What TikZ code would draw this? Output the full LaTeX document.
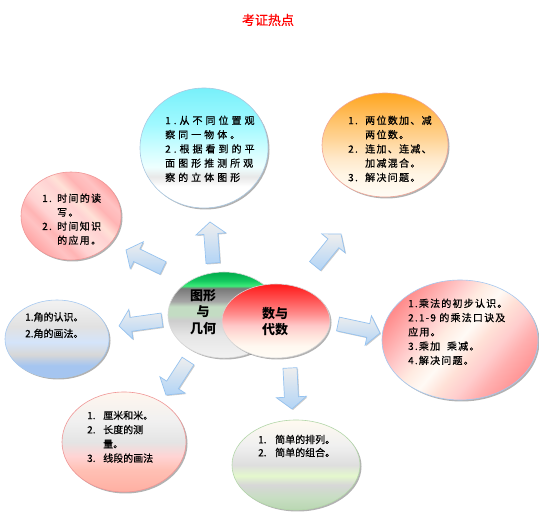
\documentclass[tikz,border=0pt]{standalone}
\usepackage{fontspec}
\newfontfamily\cjk{Noto Sans CJK SC}
\newfontfamily\cjkt[FakeBold=0.6]{Noto Sans CJK SC}
\usetikzlibrary{shapes.geometric,shadows,calc}

% colours
\definecolor{cyA}{RGB}{120,240,250}
\definecolor{cyB}{RGB}{160,249,255}
\definecolor{cyC}{RGB}{205,253,255}
\definecolor{cyD}{RGB}{238,255,255}
\definecolor{grE}{RGB}{232,232,232}
\definecolor{orA}{RGB}{255,165,30}
\definecolor{orB}{RGB}{255,192,100}
\definecolor{orC}{RGB}{255,212,150}
\definecolor{orD}{RGB}{255,232,200}
\definecolor{orE}{RGB}{255,245,228}
\definecolor{orF}{RGB}{255,252,245}
\definecolor{blA}{RGB}{165,197,240}
\definecolor{blB}{RGB}{215,215,215}
\definecolor{blC}{RGB}{212,228,250}
\definecolor{blD}{RGB}{225,225,225}
\definecolor{blE}{RGB}{242,242,242}
\definecolor{lnA}{RGB}{255,175,162}
\definecolor{lnB}{RGB}{255,192,180}
\definecolor{lnC}{RGB}{255,212,212}
\definecolor{lnD}{RGB}{228,228,228}
\definecolor{lnE}{RGB}{240,240,240}
\definecolor{lnF}{RGB}{255,246,238}
\definecolor{cbA}{RGB}{185,215,178}
\definecolor{cbB}{RGB}{200,222,195}
\definecolor{cbC}{RGB}{215,215,215}
\definecolor{cbD}{RGB}{228,248,205}
\definecolor{cbE}{RGB}{222,222,222}
\definecolor{cbF}{RGB}{240,240,240}
\definecolor{cbG}{RGB}{255,250,240}
\definecolor{geA}{RGB}{0,170,75}
\definecolor{geB}{RGB}{20,200,95}
\definecolor{geC}{RGB}{60,235,120}
\definecolor{geD}{RGB}{120,120,120}
\definecolor{geE}{RGB}{165,165,165}
\definecolor{geF}{RGB}{195,220,195}
\definecolor{geG}{RGB}{205,205,205}
\definecolor{geH}{RGB}{230,230,230}
\definecolor{geI}{RGB}{242,242,242}
\definecolor{alA}{RGB}{255,25,25}
\definecolor{alB}{RGB}{255,80,80}
\definecolor{alC}{RGB}{255,140,140}
\definecolor{alD}{RGB}{255,200,200}
\definecolor{alE}{RGB}{255,228,220}
\definecolor{alF}{RGB}{255,248,240}
\definecolor{alG}{RGB}{255,252,246}
\definecolor{tmA}{RGB}{255,165,165}
\definecolor{tmB}{RGB}{255,195,195}
\definecolor{tmC}{RGB}{255,180,180}
\definecolor{tmD}{RGB}{255,210,210}
\definecolor{tmE}{RGB}{255,222,218}
\definecolor{tmF}{RGB}{255,225,215}
\definecolor{muA}{RGB}{255,140,140}
\definecolor{muB}{RGB}{255,175,175}
\definecolor{muC}{RGB}{255,205,205}
\definecolor{muD}{RGB}{255,235,225}
\definecolor{muE}{RGB}{255,250,245}
\definecolor{muF}{RGB}{255,225,215}
\definecolor{muG}{RGB}{255,150,150}
\definecolor{arTop}{RGB}{238,238,238}
\definecolor{arBot}{RGB}{178,212,246}
\definecolor{arLine}{RGB}{150,195,240}
\definecolor{lnCyan}{RGB}{170,200,225}
\definecolor{lnOr}{RGB}{240,165,150}
\definecolor{lnPink}{RGB}{240,150,150}
\definecolor{lnBlue}{RGB}{165,200,240}
\definecolor{lnGreen}{RGB}{180,215,170}
\definecolor{lnGray}{RGB}{215,215,215}

\pgfdeclareverticalshading{cyanshade}{100bp}{color(0bp)=(white); color(25bp)=(white); color(34bp)=(white); color(38bp)=(grE); color(42bp)=(cyD); color(50bp)=(cyC); color(60bp)=(cyB); color(75bp)=(cyA); color(100bp)=(cyA)}
\pgfdeclareverticalshading{orangeshade}{100bp}{color(0bp)=(orF); color(25bp)=(orF); color(36bp)=(orE); color(44bp)=(orD); color(53bp)=(orC); color(63bp)=(orB); color(75bp)=(orA); color(100bp)=(orA)}
\pgfdeclareverticalshading{blueshade}{100bp}{color(0bp)=(blA); color(25bp)=(blA); color(33bp)=(blA); color(40bp)=(blB); color(48bp)=(blC); color(58bp)=(blD); color(75bp)=(blE); color(100bp)=(blE)}
\pgfdeclareverticalshading{lenshade}{100bp}{color(0bp)=(lnA); color(25bp)=(lnA); color(36bp)=(lnB); color(43bp)=(lnC); color(50bp)=(lnD); color(60bp)=(lnE); color(75bp)=(lnF); color(100bp)=(lnF)}
\pgfdeclareverticalshading{combshade}{100bp}{color(0bp)=(cbA); color(25bp)=(cbA); color(32bp)=(cbB); color(39bp)=(cbC); color(44bp)=(cbD); color(50bp)=(cbE); color(61bp)=(cbF); color(75bp)=(cbG); color(100bp)=(cbG)}
\pgfdeclareverticalshading{geoshade}{100bp}{color(0bp)=(geI); color(25bp)=(geI); color(38bp)=(geH); color(47bp)=(geG); color(50bp)=(geF); color(55bp)=(geF); color(58bp)=(geE); color(65.5bp)=(geD); color(67bp)=(geC); color(70bp)=(geB); color(75bp)=(geA); color(100bp)=(geA)}
\pgfdeclareverticalshading{algshade}{100bp}{color(0bp)=(alG); color(25bp)=(alG); color(33bp)=(alF); color(40bp)=(alE); color(47bp)=(alD); color(55bp)=(alC); color(65bp)=(alB); color(75bp)=(alA); color(100bp)=(alA)}
\pgfdeclarehorizontalshading{timeshade}{100bp}{color(0bp)=(tmA); color(25bp)=(tmA); color(33bp)=(tmB); color(37bp)=(tmC); color(42bp)=(tmD); color(48bp)=(tmE); color(54bp)=(tmD); color(58bp)=(tmF); color(64bp)=(tmC); color(70bp)=(tmB); color(75bp)=(tmA); color(100bp)=(tmA)}
\pgfdeclarehorizontalshading{multshade}{100bp}{color(0bp)=(muA); color(25bp)=(muA); color(32bp)=(muB); color(38bp)=(muC); color(44bp)=(muD); color(50bp)=(muE); color(56bp)=(muF); color(62bp)=(muC); color(68bp)=(muB); color(75bp)=(muG); color(100bp)=(muG)}

\tikzset{
  ell/.style={ellipse, inner sep=0pt, line width=0.6pt,
    drop shadow={shadow xshift=1.5pt, shadow yshift=-1.5pt, opacity=0.3, fill=black}},
  txt/.style={anchor=north west, inner sep=0pt, font=\cjkt\fontsize{10}{14.25}\selectfont},
  ctr/.style={inner sep=0pt, align=center, font=\cjk\bfseries\fontsize{13}{16.5}\selectfont},
  barrow/.style={draw=arLine, line width=0.7pt, top color=arTop, bottom color=arBot,
    line join=miter,
    drop shadow={shadow xshift=1pt, shadow yshift=-1pt, opacity=0.2, fill=black}}
}

\newcommand\blockarr[3]{%
  \coordinate (#3n) at ($(#2)!12pt!(#1)$);
  \path[barrow] ($(#1)!7pt!90:(#2)$) -- ($(#3n)!7pt!90:(#2)$) -- ($(#3n)!15pt!90:(#2)$)
    -- (#2) -- ($(#3n)!15pt!-90:(#2)$) -- ($(#3n)!7pt!-90:(#2)$) -- ($(#1)!7pt!-90:(#2)$) -- cycle;
}

\begin{document}
\begin{tikzpicture}[x=1pt,y=-1pt]
\useasboundingbox[fill=white] (0,0) rectangle (539,521);

% title
\node[font=\cjkt\fontsize{13}{15}\selectfont, text=red, inner sep=0pt] (title) at (268,20) {考证热点};

% outer ellipses
\node[ell, minimum width=128, minimum height=120, shading=cyanshade, draw=lnCyan] (see) at (204,148) {};
\node[ell, minimum width=126, minimum height=104, shading=orangeshade, draw=lnOr] (add) at (385,145) {};
\node[ell, minimum width=100, minimum height=88, shading=timeshade, shading angle=45, draw=lnPink] (time) at (71,216) {};
\node[ell, minimum width=156, minimum height=120, shading=multshade, shading angle=-40, draw=lnBlue] (mult) at (460,340) {};
\node[ell, minimum width=104, minimum height=78, shading=blueshade, draw=lnBlue] (angle) at (57,339) {};
\node[ell, minimum width=124, minimum height=100, shading=lenshade, draw=lnPink] (len) at (124,442) {};
\node[ell, minimum width=128, minimum height=90, shading=combshade, draw=lnGreen] (comb) at (296,465) {};

% centre ellipses
\node[ell, minimum width=112, minimum height=86, shading=geoshade, draw=lnGray] (geo) at (224,315) {};
\node[ell, minimum width=108, minimum height=74, shading=algshade, draw=lnGray] (alg) at (276,321) {};
\node[ctr] (geot) at (203,312) {图形\\与\\几何};
\node[ctr] (algt) at (275,321.5) {数与\\代数};

% block arrows
\coordinate (upA) at (213,263); \coordinate (upB) at (210,222);
\coordinate (urA) at (315,266); \coordinate (urB) at (341,234);
\coordinate (ulA) at (163,268); \coordinate (ulB) at (126,250);
\coordinate (lfA) at (162,320); \coordinate (lfB) at (119,326);
\coordinate (rtA) at (338,324); \coordinate (rtB) at (380,333);
\coordinate (dlA) at (188,361); \coordinate (dlB) at (166,395);
\coordinate (dnA) at (290,368); \coordinate (dnB) at (292,409);
\blockarr{upA}{upB}{up}
\blockarr{urA}{urB}{ur}
\blockarr{ulA}{ulB}{ul}
\blockarr{lfA}{lfB}{lf}
\blockarr{rtA}{rtB}{rt}
\blockarr{dlA}{dlB}{dl}
\blockarr{dnA}{dnB}{dn}

% texts
\node[txt] (t1) at (165,114) {\addfontfeature{LetterSpace=30}\begin{tabular}{@{}l@{}}1.从不同位置观\\察同一物体。\\2.根据看到的平\\面图形推测所观\\察的立体图形\end{tabular}};
\node[txt] (t2) at (348,114) {\addfontfeature{LetterSpace=13}\begin{tabular}{@{}p{17pt}@{}l@{}}1. & 两位数加、减\\ & 两位数。\\2. & 连加、连减、\\ & 加减混合。\\3. & 解决问题。\end{tabular}};
\node[txt] (t3) at (42,192) {\addfontfeature{LetterSpace=13}\fontsize{10}{14}\selectfont\begin{tabular}{@{}p{15pt}@{}l@{}}1. & 时间的读\\ & 写。\\2. & 时间知识\\ & 的应用。\end{tabular}};
\node[txt] (t4) at (408,297) {\addfontfeature{LetterSpace=12}\begin{tabular}{@{}l@{}}1.乘法的初步认识。\\2.1-9 的乘法口诀及\\应用。\\3.乘加\ \ 乘减。\\4.解决问题。\end{tabular}};
\node[txt] (t5) at (25,309) {\fontsize{10}{16.5}\selectfont\begin{tabular}{@{}l@{}}1.角的认识。\\2.角的画法。\end{tabular}};
\node[txt] (t6) at (87,409) {\begin{tabular}{@{}p{16pt}@{}l@{}}1. & 厘米和米。\\2. & 长度的测\\ & 量。\\3. & 线段的画法\end{tabular}};
\node[txt] (t7) at (258,434) {\fontsize{10}{13}\selectfont\begin{tabular}{@{}p{17pt}@{}l@{}}1. & 简单的排列。\\2. & 简单的组合。\end{tabular}};
\end{tikzpicture}
\end{document}
